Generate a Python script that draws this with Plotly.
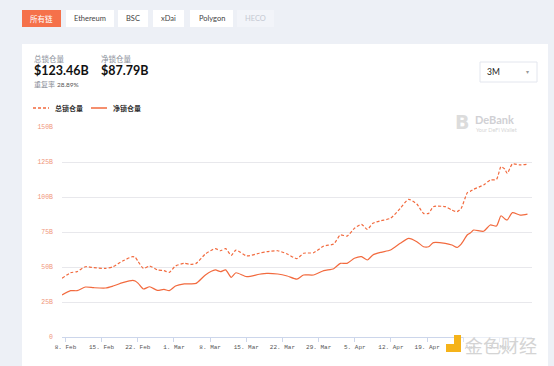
import plotly.graph_objects as go

# ---------------- data ----------------
dates = [
    "2021-02-07 08:00", "2021-02-09 00:00", "2021-02-10 06:00", "2021-02-11 21:00", "2021-02-13 12:00",
    "2021-02-15 18:00", "2021-02-17 05:00", "2021-02-19 02:00", "2021-02-21 00:00", "2021-02-21 12:00",
    "2021-02-22 02:00", "2021-02-23 02:00", "2021-02-24 07:00", "2021-02-25 19:00", "2021-02-27 02:00",
    "2021-02-28 02:00", "2021-03-01 07:00", "2021-03-03 00:00", "2021-03-04 05:00", "2021-03-05 07:00",
    "2021-03-07 02:00", "2021-03-09 00:00", "2021-03-10 00:00", "2021-03-11 00:00", "2021-03-12 02:00",
    "2021-03-13 00:00", "2021-03-15 02:00", "2021-03-17 12:00", "2021-03-19 00:00", "2021-03-21 02:00",
    "2021-03-22 22:00", "2021-03-24 19:00", "2021-03-26 02:00", "2021-03-28 00:00", "2021-03-30 00:00",
    "2021-03-31 22:00", "2021-04-02 05:00", "2021-04-03 12:00", "2021-04-04 22:00", "2021-04-06 07:00",
    "2021-04-07 10:00", "2021-04-08 12:00", "2021-04-10 02:00", "2021-04-11 22:00", "2021-04-13 19:00",
    "2021-04-15 10:00", "2021-04-17 00:00", "2021-04-18 07:00", "2021-04-19 07:00", "2021-04-20 05:00",
    "2021-04-22 12:00", "2021-04-23 19:00", "2021-04-24 19:00", "2021-04-25 14:00", "2021-04-26 19:00",
    "2021-04-27 10:00", "2021-04-28 00:00", "2021-04-29 22:00", "2021-05-01 05:00", "2021-05-02 10:00",
    "2021-05-03 07:00", "2021-05-04 00:00", "2021-05-04 12:00", "2021-05-05 12:00", "2021-05-07 00:00",
    "2021-05-08 10:00",
]
total_tvl = [
    41.9, 45.9, 46.7, 50.2, 49.5,
    49.0, 50.2, 54.3, 57.4, 57.0,
    53.8, 49.0, 50.7, 47.9, 47.4,
    46.2, 50.7, 52.6, 51.9, 52.6,
    59.3, 63.1, 61.6, 63.1, 58.3,
    62.1, 57.9, 59.8, 61.0, 61.6,
    59.3, 56.0, 59.8, 60.2, 65.0,
    66.4, 72.9, 72.1, 77.6, 80.5,
    76.9, 81.2, 83.1, 84.8, 91.9,
    98.3, 95.0, 88.3, 88.3, 93.1,
    93.1, 90.7, 89.5, 91.9, 103.1,
    104.2, 105.5, 108.6, 112.1, 112.6,
    121.7, 120.0, 116.9, 123.6, 122.9,
    123.46,
]
net_tvl = [
    30.0, 33.1, 33.1, 35.7, 35.2,
    35.0, 36.4, 38.8, 40.5, 40.0,
    38.3, 34.3, 35.9, 33.3, 34.0,
    33.1, 36.4, 37.9, 38.0, 38.3,
    44.3, 47.9, 46.7, 47.9, 42.6,
    45.9, 43.1, 44.8, 45.5, 45.0,
    43.6, 41.4, 44.3, 44.3, 47.4,
    48.8, 52.6, 52.6, 56.2, 57.4,
    55.0, 58.6, 60.5, 62.1, 66.9,
    70.5, 68.1, 64.5, 64.5, 67.4,
    66.9, 65.7, 64.0, 66.4, 73.0,
    74.5, 76.4, 75.5, 80.0, 79.3,
    86.6, 84.5, 83.6, 88.8, 87.1,
    87.79,
]
series_names = ["总锁仓量", "净锁仓量"]
y_tick_vals = [0, 25, 50, 75, 100, 125, 150]
y_tick_text = ["0", "25B", "50B", "75B", "100B", "125B", "150B"]
chain_tabs = ["所有链", "Ethereum", "BSC", "xDai", "Polygon", "HECO"]
total_label, total_value = "总锁仓量", "$123.46B"
net_label, net_value = "净锁仓量", "$87.79B"
dup_label, dup_value = "重复率", "28.89%"
period = "3M"

# ---------------- layout helpers (pixel -> paper) ----------------
W, H = 554, 366
PL, PR, PT, PB = 62, 532, 127, 337


def px(x):
    return (x - PL) / (PR - PL)


def py(y):
    return (PB - y) / (PB - PT)


LINE = "#f26a3e"
CJK = "Lato, 'Noto Sans CJK SC', sans-serif"

fig = go.Figure()
fig.add_trace(go.Scatter(x=dates, y=total_tvl, name=series_names[0], mode="lines",
                         line=dict(color=LINE, width=1.2, dash="3px,2px", shape="spline", smoothing=0.6),
                         showlegend=False))
fig.add_trace(go.Scatter(x=dates, y=net_tvl, name=series_names[1], mode="lines",
                         line=dict(color=LINE, width=1.2, shape="spline", smoothing=0.6),
                         showlegend=False))

shapes = []
annotations = []

# white card
shapes.append(dict(type="rect", xref="paper", yref="paper", x0=px(22), x1=px(548), y0=py(372), y1=py(44),
                   fillcolor="white", line=dict(width=0), layer="below"))

# chain tabs
tab_boxes = [(22, 61), (66, 114), (118, 148), (153, 184), (190, 233), (237, 274)]
for i, (name, (x0, x1)) in enumerate(zip(chain_tabs, tab_boxes)):
    if i == 0:
        fill, col = "#f5714a", "white"
    elif i == len(chain_tabs) - 1:
        fill, col = "#f2f4f9", "#c4c8d2"
    else:
        fill, col = "white", "#444444"
    shapes.append(dict(type="rect", xref="paper", yref="paper", x0=px(x0), x1=px(x1), y0=py(27), y1=py(10),
                       fillcolor=fill, line=dict(width=0), layer="below"))
    annotations.append(dict(xref="paper", yref="paper", x=px((x0 + x1) / 2), y=py(18.5), text=name,
                            showarrow=False, xanchor="center", yanchor="middle",
                            font=dict(size=7.5, color=col, family=CJK)))

# header stats
annotations += [
    dict(xref="paper", yref="paper", x=px(32), y=py(59), text=total_label, showarrow=False,
         xanchor="left", yanchor="middle", font=dict(size=7.5, color="#8a8f99", family=CJK)),
    dict(xref="paper", yref="paper", x=px(32), y=py(70), text="<b>" + total_value + "</b>", showarrow=False,
         xanchor="left", yanchor="middle", font=dict(size=12.5, color="#111111", family="Lato, sans-serif")),
    dict(xref="paper", yref="paper", x=px(99), y=py(59), text=net_label, showarrow=False,
         xanchor="left", yanchor="middle", font=dict(size=7.5, color="#8a8f99", family=CJK)),
    dict(xref="paper", yref="paper", x=px(99), y=py(70), text="<b>" + net_value + "</b>", showarrow=False,
         xanchor="left", yanchor="middle", font=dict(size=12.5, color="#111111", family="Lato, sans-serif")),
    dict(xref="paper", yref="paper", x=px(32), y=py(84), text=dup_label, showarrow=False,
         xanchor="left", yanchor="middle", font=dict(size=7, color="#8a8f99", family=CJK)),
    dict(xref="paper", yref="paper", x=px(55), y=py(84), text=dup_value, showarrow=False,
         xanchor="left", yanchor="middle", font=dict(size=6.5, color="#555555", family="Lato, sans-serif")),
]

# custom legend
shapes.append(dict(type="line", xref="paper", yref="paper", x0=px(33), x1=px(49), y0=py(108), y1=py(108),
                   line=dict(color=LINE, width=1.5, dash="3px,2px")))
shapes.append(dict(type="line", xref="paper", yref="paper", x0=px(91), x1=px(107), y0=py(108), y1=py(108),
                   line=dict(color=LINE, width=1.5)))
annotations += [
    dict(xref="paper", yref="paper", x=px(53), y=py(108), text="<b>" + series_names[0] + "</b>", showarrow=False,
         xanchor="left", yanchor="middle", font=dict(size=7, color="#333333", family=CJK)),
    dict(xref="paper", yref="paper", x=px(111), y=py(108), text="<b>" + series_names[1] + "</b>", showarrow=False,
         xanchor="left", yanchor="middle", font=dict(size=7, color="#333333", family=CJK)),
]

# period dropdown
shapes.append(dict(type="rect", xref="paper", yref="paper", x0=px(480), x1=px(537), y0=py(82), y1=py(62),
                   fillcolor="white", line=dict(color="#e3e6ee", width=1)))
annotations += [
    dict(xref="paper", yref="paper", x=px(485), y=py(72), text=period, showarrow=False,
         xanchor="left", yanchor="middle", font=dict(size=8.5, color="#222222", family="Lato, sans-serif")),
    dict(xref="paper", yref="paper", x=px(527), y=py(72), text="▾", showarrow=False,
         xanchor="center", yanchor="middle", font=dict(size=6, color="#999999")),
]

# DeBank watermark
annotations += [
    dict(xref="paper", yref="paper", x=px(462), y=py(122), text="<b>B</b>", showarrow=False,
         xanchor="center", yanchor="middle", font=dict(size=19, color="#dcdcdc", family="DejaVu Sans")),
    dict(xref="paper", yref="paper", x=px(473), y=py(120), text="<b>DeBank</b>", showarrow=False,
         xanchor="left", yanchor="middle", font=dict(size=11, color="#d0d0d4", family="Lato, sans-serif")),
    dict(xref="paper", yref="paper", x=px(474), y=py(130), text="Your DeFi Wallet", showarrow=False,
         xanchor="left", yanchor="middle", font=dict(size=5.5, color="#d6d6d6", family="Lato, sans-serif")),
]

# 金色财经 watermark
shapes += [
    dict(type="rect", xref="paper", yref="paper", x0=px(446), x1=px(461), y0=py(352), y1=py(344),
         fillcolor="#f5b31a", line=dict(width=0)),
    dict(type="rect", xref="paper", yref="paper", x0=px(454), x1=px(461), y0=py(352), y1=py(335),
         fillcolor="#f5b31a", line=dict(width=0)),
]
annotations.append(dict(xref="paper", yref="paper", x=px(463), y=py(345), text="金色财经", showarrow=False,
                        xanchor="left", yanchor="middle", bgcolor="rgba(255,255,255,0.6)",
                        font=dict(size=18, color="#d4d4d4", family="'Noto Sans CJK SC', sans-serif")))

fig.update_layout(
    width=W, height=H,
    margin=dict(l=PL, r=W - PR, t=PT, b=H - PB, pad=0),
    paper_bgcolor="#edf0f6",
    plot_bgcolor="white",
    shapes=shapes,
    annotations=annotations,
    showlegend=False,
    hovermode=False,
)
fig.update_xaxes(
    type="date",
    range=["2021-02-07 08:00", "2021-05-09 07:00"],
    tick0="2021-02-08", dtick=7 * 24 * 3600 * 1000,
    tickformat="%-d. %b",
    showgrid=False, showline=True, linecolor="#ccd6eb", linewidth=1,
    ticks="outside", ticklen=4, tickcolor="#ccd6eb",
    tickfont=dict(size=6, color="#555555", family="'Liberation Mono', monospace"),
    zeroline=False, fixedrange=True,
)
fig.update_yaxes(
    range=[0, 150],
    tickvals=y_tick_vals, ticktext=y_tick_text,
    showgrid=True, gridcolor="#e8e8ec", gridwidth=1,
    zeroline=False, showline=False, ticks="",
    ticklabelstandoff=8,
    tickfont=dict(size=6.5, color="#f0957a", family="'Liberation Mono', monospace"),
    fixedrange=True,
)

fig.write_html("out.html", config={"displayModeBar": False},
               post_script="document.body.style.margin='0';")
